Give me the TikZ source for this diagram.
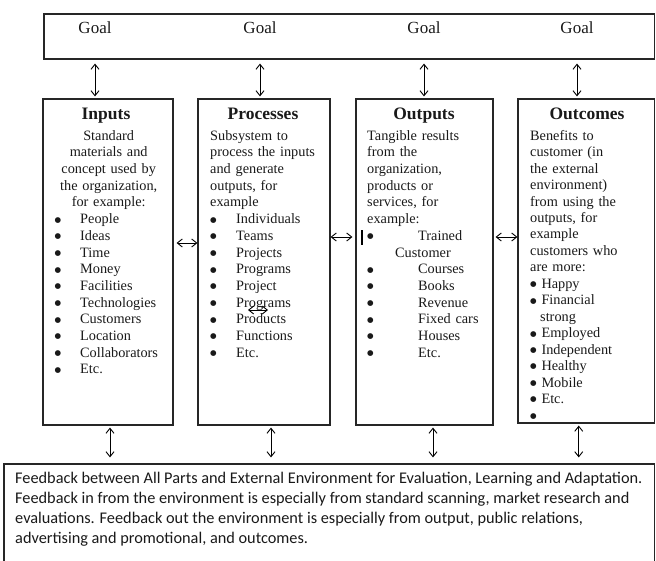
\documentclass[tikz,border=0pt]{standalone}
\usepackage{fontspec}
\setmainfont{Liberation Serif}
\newfontfamily\calfont{Carlito}
\newfontfamily\dotfont{DejaVu Sans}
\usepackage{tikz}
\usetikzlibrary{arrows.meta}
\tikzstyle{box} = [draw=black!85,line width=1.2pt,inner sep=0pt]
\tikzstyle{boxtitle} = [font=\fontsize{17.5}{20}\selectfont\bfseries,anchor=base,inner sep=0pt]
\tikzstyle{body} = [font=\fontsize{14.3}{16.7}\selectfont,anchor=north west,inner sep=0pt,align=left]
\tikzstyle{goal} = [font=\fontsize{17}{20}\selectfont,anchor=base,inner sep=0pt]
\tikzstyle{arrow} = [line width=0.9pt,<->,>={Straight Barb[length=5pt,width=8pt]}]
\newcommand{\bigdot}{\raisebox{1.6pt}{\dotfont\fontsize{7.5}{8}\selectfont ●}}
\newcommand{\blt}[1][25.5pt]{\makebox[#1][l]{\bigdot}}

\begin{document}
\begin{tikzpicture}[x=1pt,y=-1pt,text=black!90]
\useasboundingbox (0,0) rectangle (656,560);

\node[box,minimum width=610.5pt,minimum height=45pt] (top) at (349.25,36.5) {};
\node[box,minimum width=130pt,minimum height=326pt] (inputs) at (108,262) {};
\node[box,minimum width=132pt,minimum height=326pt] (processes) at (264,262) {};
\node[box,minimum width=137pt,minimum height=326pt] (outputs) at (424.5,262) {};
\node[box,minimum width=136.5pt,minimum height=324pt] (outcomes) at (586.25,261) {};
\node[box,minimum width=650.5pt,minimum height=103pt] (feedback) at (329.25,515.5) {};

\foreach \x/\n in {95/1,260/2,424/3,577/4}
{
 \node[goal] (goal\n) at (\x,33) {Goal};
}

\node[boxtitle] (inputs-title) at (106,119) {Inputs};
\node[boxtitle] (processes-title) at (263,119) {Processes};
\node[boxtitle] (outputs-title) at (424,119) {Outputs};
\node[boxtitle] (outcomes-title) at (587,119) {Outcomes};

\node[body,text width=108pt] (inputs-text) at (54.5,130) {{\centering Standard\\materials and\\concept used by\\the organization,\\for example:\par}
\blt People\\\blt Ideas\\\blt Time\\\blt Money\\\blt Facilities\\\blt Technologies\\\blt Customers\\\blt Location\\\blt Collaborators\\\blt Etc.};

\node[body,text width=115pt] (processes-text) at (210,130) {Subsystem to\\process the inputs\\and generate\\outputs, for\\example\\
\blt[26pt]Individuals\\\blt[26pt]Teams\\\blt[26pt]Projects\\\blt[26pt]Programs\\\blt[26pt]Project\\\blt[26pt]Programs\\\blt[26pt]Products\\\blt[26pt]Functions\\\blt[26pt]Etc.};

\node[body,text width=122pt] (outputs-text) at (367,130) {Tangible results\\from the\\organization,\\products or\\services, for\\example:\\
\blt[51pt]Trained\\\hspace*{28pt}Customer\\\blt[51pt]Courses\\\blt[51pt]Books\\\blt[51pt]Revenue\\\blt[51pt]Fixed cars\\\blt[51pt]Houses\\\blt[51pt]Etc.};

\node[body,text width=122pt,font=\fontsize{14.3}{16.45}\selectfont] (outcomes-text) at (530,130) {Benefits to\\customer (in\\the external\\environment)\\from using the\\outputs, for\\example\\customers who\\are more:\\
\bigdot\ Happy\\\bigdot\ Financial\\\hspace*{10pt}strong\\\bigdot\ Employed\\\bigdot\ Independent\\\bigdot\ Healthy\\\bigdot\ Mobile\\\bigdot\ Etc.\\\bigdot};

\node[anchor=north west,inner sep=0pt,align=left,font=\calfont\fontsize{16.3}{20}\selectfont] (feedback-text) at (15,472) {Feedback between All Parts and External Environment for Evaluation, Learning and Adaptation.\\
Feedback in from the environment is especially from standard scanning, market research and\\
evaluations. Feedback out the environment is especially from output, public relations,\\
advertising and promotional, and outcomes.};

\foreach \n/\b in {1/inputs,2/processes,3/outputs,4/outcomes}
{
 \draw[arrow,shorten <=4pt,shorten >=2pt] (goal\n |- top.south) -- (goal\n |- \b.north);
}

\foreach \b/\dx in {inputs/2,processes/7,outputs/8.5,outcomes/-7.5}
{
 \draw[arrow,shorten <=2pt,shorten >=6pt] ([xshift=\dx pt]\b.south) -- ([xshift=\dx pt]\b.south |- feedback.north);
}

\draw[arrow,shorten <=3pt] ([yshift=19pt]inputs.east) -- ([yshift=19pt]processes.west);
\draw[arrow,shorten >=3pt] ([yshift=25pt]processes.east) -- ([yshift=25pt]outputs.west);
\draw[arrow,shorten <=2pt] ([yshift=25pt]outputs.east) -- ([yshift=24pt]outcomes.west);

\draw[line width=1.8pt] (362,230) -- (362,245);
\coordinate (pa) at (248,310);
\coordinate (pb) at (268,310);
\draw[arrow] (pa) -- (pb);

\end{tikzpicture}
\end{document}
